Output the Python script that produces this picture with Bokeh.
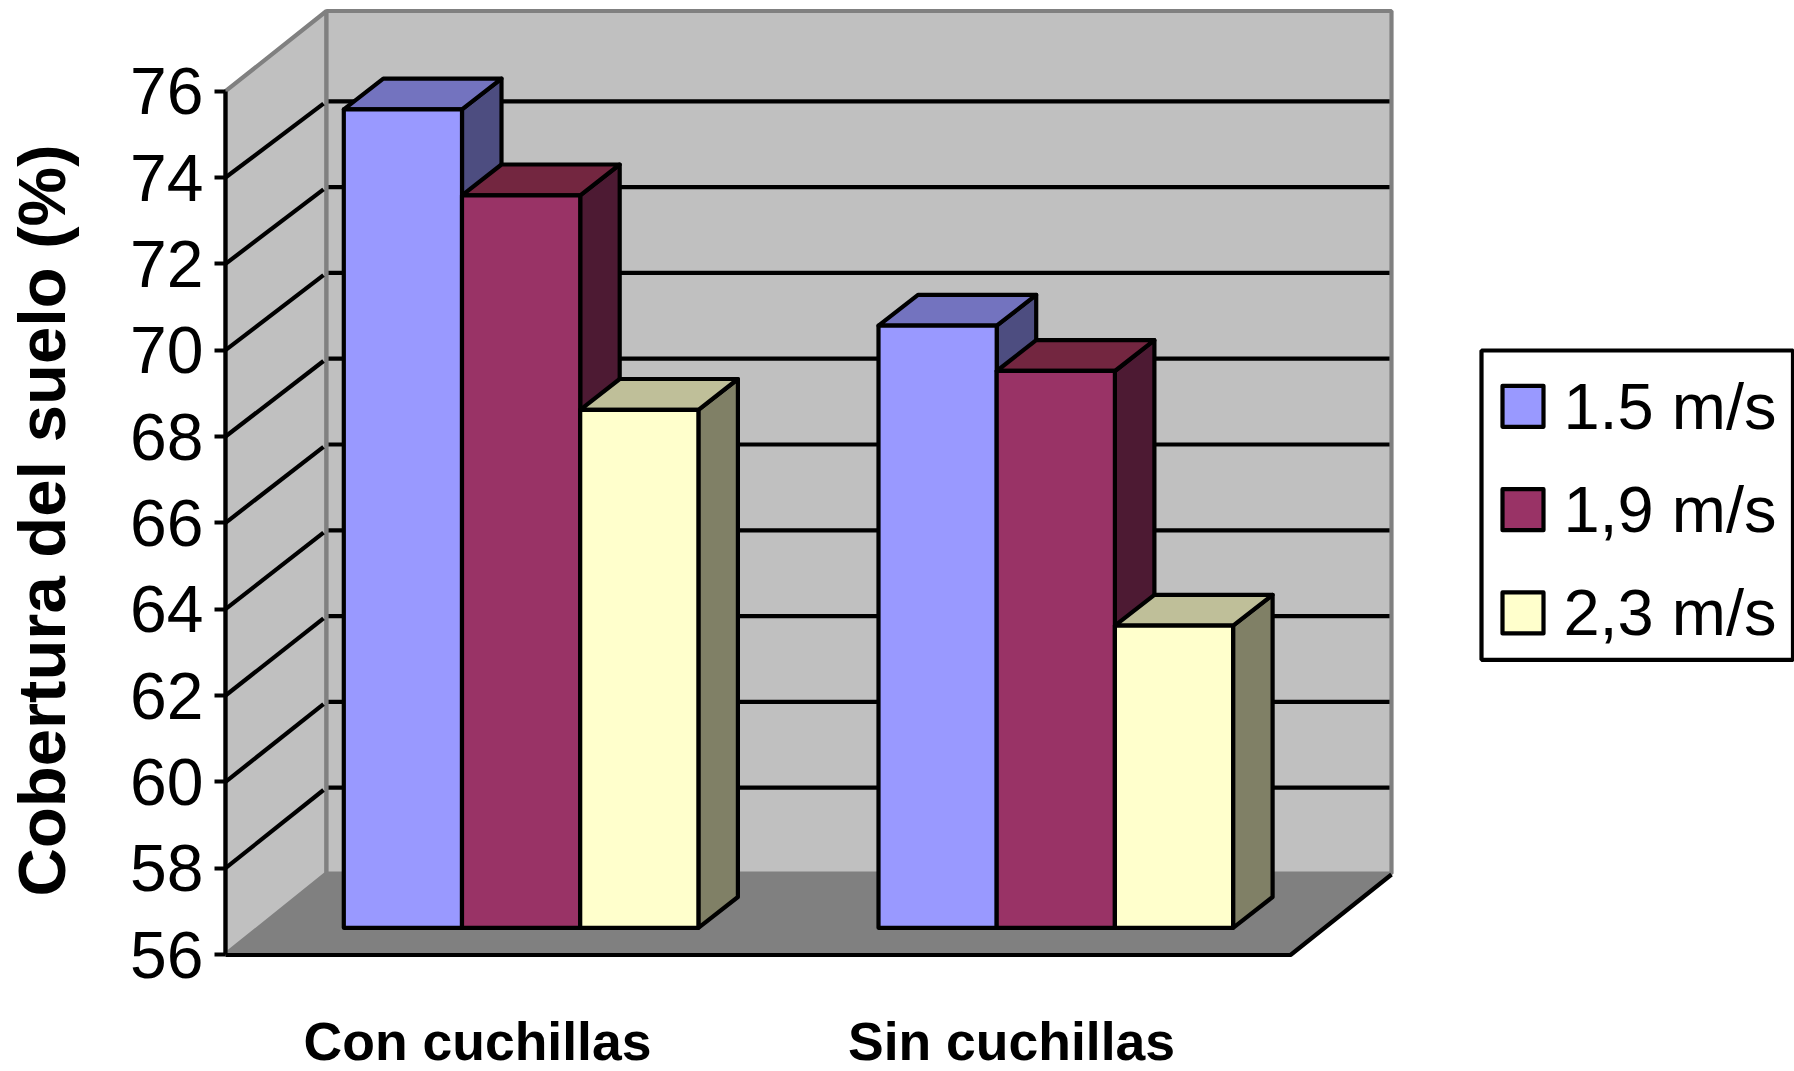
from bokeh.plotting import figure
from bokeh.embed import file_html
from bokeh.resources import INLINE
from bokeh.core.properties import value
from bokeh.models import Range1d, LinearAxis, FixedTicker

categories = ["Con cuchillas", "Sin cuchillas"]
series_names = ["1.5 m/s", "1,9 m/s", "2,3 m/s"]
values_15 = [74.96, 69.95]
values_19 = [72.97, 68.9]
values_23 = [68.0, 63.0]
y_ticks = [56, 58, 60, 62, 64, 66, 68, 70, 72, 74, 76]
y_title = "Cobertura del suelo (%)"
front_colors = ["#9999FF", "#993366", "#FFFFCC"]
top_colors = ["#7373BF", "#732640", "#BFBF99"]
side_colors = ["#4D4D80", "#4D1A33", "#808066"]

FONT = "Liberation Sans"
W, H = 1794, 1071
AX_X = 225
Y56 = 954.0
K = 43.165
LW = 4.2


def v_at(page_y):
    return 56 + (Y56 - page_y) / K


p = figure(
    width=W, height=H, output_backend="svg", toolbar_location=None,
    x_range=Range1d(0, W),
    y_range=Range1d(v_at(H), v_at(0)),
    x_axis_type=None, y_axis_type=None,
    min_border_left=0, min_border_right=0, min_border_top=0, min_border_bottom=0,
    outline_line_color=None, background_fill_color="white",
)
p.grid.visible = False
p.extra_y_ranges = {"px": Range1d(H, 0)}

# axis
yaxis = LinearAxis(
    fixed_location=AX_X,
    ticker=FixedTicker(ticks=y_ticks), bounds=(56, 76),
    axis_line_color="black", axis_line_width=LW,
    major_tick_line_color="black", major_tick_line_width=LW,
    major_tick_out=11, major_tick_in=0, minor_tick_line_color=None,
    major_label_standoff=11,
    major_label_text_font=FONT, major_label_text_font_size="66px",
    major_label_text_color="black",
)
p.add_layout(yaxis, "left")

# room geometry
BACK_X, RIGHT_X, FLOOR_R = 326, 1391, 1290
TOP_Y, BACK_BOTTOM = 10.5, 873
WALL = "#C0C0C0"
EDGE = "#808080"
p.patch([AX_X, FLOOR_R, RIGHT_X, BACK_X], [Y56, Y56, BACK_BOTTOM, BACK_BOTTOM],
        y_range_name="px", fill_color="#808080", line_color=None)
p.patch([AX_X, BACK_X, BACK_X, AX_X], [Y56 - (76 - 56) * K, TOP_Y, BACK_BOTTOM, Y56],
        y_range_name="px", fill_color=WALL, line_color=EDGE, line_width=LW)
p.patch([BACK_X, RIGHT_X, RIGHT_X, BACK_X], [TOP_Y, TOP_Y, BACK_BOTTOM, BACK_BOTTOM],
        y_range_name="px", fill_color=WALL, line_color=EDGE, line_width=LW)

grid = y_ticks[1:-1]
p.multi_line([[BACK_X + 2, RIGHT_X - 2] for _ in grid],
             [[BACK_BOTTOM - (t - 56) * 42.9] * 2 for t in grid],
             y_range_name="px", line_color="black", line_width=LW)
p.multi_line([[AX_X, BACK_X - 3] for _ in grid],
             [[Y56 - (t - 56) * K, BACK_BOTTOM - (t - 56) * 42.9 + 2.3] for t in grid],
             y_range_name="px", line_color="black", line_width=LW)
p.line([AX_X, FLOOR_R, RIGHT_X], [Y56 + 0.5, Y56 + 0.5, BACK_BOTTOM + 1],
       y_range_name="px", line_color="black", line_width=LW)

# bars
GROUP_X = [343.3, 878.0]
BAR_W = 118.2
DX = 39.5
DY = 30.8 / K
BASE = (Y56 - 927.3) / K
OUT = dict(line_color="black", line_width=LW, line_join="round")
series_values = [values_15, values_19, values_23]
for g, gx in enumerate(GROUP_X):
    for s, vals in enumerate(series_values):
        x0 = gx + s * BAR_W
        x1 = x0 + BAR_W
        y0 = 56 + BASE
        y1 = vals[g] + BASE
        p.patch([x1, x1 + DX, x1 + DX, x1], [y0, y0 + DY, y1 + DY, y1],
                fill_color=side_colors[s], **OUT)
        p.patch([x0, x0 + DX, x1 + DX, x1], [y1, y1 + DY, y1 + DY, y1],
                fill_color=top_colors[s], **OUT)
        p.quad(left=[x0], right=[x1], bottom=[y0], top=[y1],
               fill_color=front_colors[s], **OUT)

# category labels
LABEL_X = [477, 1011]
p.text(LABEL_X, [v_at(1041)] * 2, text=categories, text_align="center", text_baseline="middle",
       text_font=value(FONT), text_font_style="bold", text_font_size="53.5px", text_color="black")

# legend
p.quad(left=[1481], right=[1792.5], top=[350], bottom=[659.3], y_range_name="px",
       fill_color="white", line_color="black", line_width=LW)
LEG_Y = [405.8, 509.2, 612.4]
p.rect([1522.5] * 3, LEG_Y, width=41, height=41, height_units="screen", width_units="screen",
       y_range_name="px", fill_color=front_colors, line_color="black", line_width=LW, line_join="round")
p.text([1776] * 3, LEG_Y, text=series_names, y_range_name="px", text_align="right", text_baseline="middle",
       text_font=value(FONT), text_font_size="65px", text_color="black")

# y title
p.text([41], [520], text=[y_title], y_range_name="px", angle=1.5707963,
       text_align="center", text_baseline="middle", text_font=value(FONT),
       text_font_style="bold", text_font_size="67px", text_color="black")

open("out.html", "w").write(file_html(p, INLINE))
